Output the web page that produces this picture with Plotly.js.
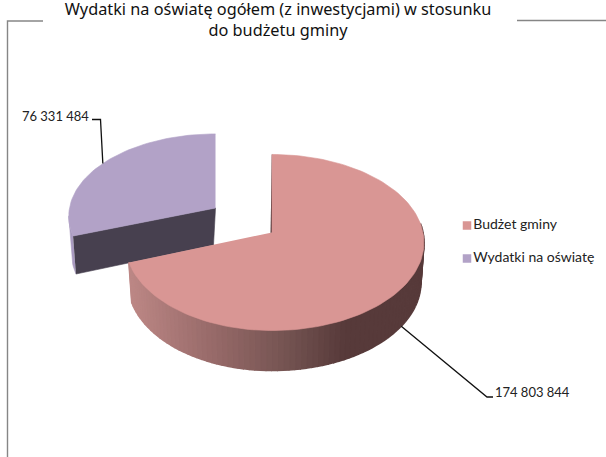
<!DOCTYPE html>
<html><head><meta charset="utf-8">
<script src="https://cdn.plot.ly/plotly-3.0.0.min.js"></script>
<style>html,body{margin:0;padding:0;background:#fff}</style></head>
<body><div id="chart" style="width:606px;height:457px"></div>
<script>
const titleLines = ["Wydatki na oświatę ogółem (z inwestycjami) w stosunku", "do budżetu gminy"];
const categories = ["Budżet gminy", "Wydatki na oświatę"];
const values = [174803844, 76331484];
const topColors = ["#D99694", "#B2A2C7"];

const total = values[0] + values[1];
const sweep = values[0] / total * 360;
const rad = d => d * Math.PI / 180;

// projected disc: apex position, radii and perspective factor of each slice
const discs = [
  {x0: 272, y0: 232.5, A: 86.9, BL: 146, BR: 151, k: 0.1136, depth: 40, shrink: 0.98, from: 0, to: sweep},
  {x0: 215.5, y0: 208, A: 81.5, BL: 146, BR: 146, k: 0.1, depth: 38, shrink: 0.98, from: sweep, to: 360}
];
function proj(d, deg, low) {
  const u = Math.sin(rad(deg)), v = Math.cos(rad(deg)), w = 1 + d.k * v;
  const s = low ? d.shrink : 1, B = u < 0 ? d.BL : d.BR;
  return [d.x0 + B * s * u / w, d.y0 - d.A * v / w + (low ? d.depth : 0)];
}
function poly(pts, color, lw) {
  return {type: "scatter", mode: "lines", x: pts.map(p => p[0]), y: pts.map(p => p[1]),
    fill: "toself", fillcolor: color, line: {color: color, width: lw === undefined ? 0.6 : lw},
    hoverinfo: "skip", showlegend: false};
}
function arc(d, a, b, low) {
  const n = Math.ceil(Math.abs(b - a) / 2), out = [];
  for (let i = 0; i <= n; i++) out.push(proj(d, a + (b - a) * i / n, low));
  return out;
}
function shade(x) {
  const stops = [[130, [188, 135, 133]], [215, [150, 105, 104]], [285, [117, 84, 82]], [345, [87, 58, 58]], [430, [87, 58, 58]]];
  for (let i = 1; i < stops.length; i++) {
    if (x <= stops[i][0]) {
      const t = Math.max(0, (x - stops[i - 1][0]) / (stops[i][0] - stops[i - 1][0]));
      const c = stops[i - 1][1].map((v, j) => Math.round(v + (stops[i][1][j] - v) * t));
      return "rgb(" + c.join(",") + ")";
    }
  }
  return "rgb(87,58,58)";
}

const traces = [];
const P = discs[0], Q = discs[1];
const apexQ = [Q.x0, Q.y0], apexQlow = [Q.x0 - 2, Q.y0 + Q.depth - 1];

// exploded slice: outer wall, cut face, top
traces.push(poly(arc(Q, Q.from, Q.from + 14, false).concat(arc(Q, Q.from + 14, Q.from, true)), "#A99AC0"));
traces.push(poly([proj(Q, Q.from, false), apexQ, apexQlow, proj(Q, Q.from, true)], "#47404F"));
traces.push(poly([apexQ].concat(arc(Q, Q.from, Q.to, false)), topColors[1]));

// main slice: inner sliver, outer wall strips, top
traces.push(poly([proj(P, 0, false), [P.x0, P.y0], [P.x0 - 1.5, P.y0]], "#57393A"));
const step = 2;
for (let a = 84; a < P.to; a += step) {
  const b = Math.min(a + step, P.to);
  const pts = [proj(P, a, false), proj(P, b, false), proj(P, b, true), proj(P, a, true)];
  traces.push(poly(pts, shade((pts[0][0] + pts[1][0]) / 2), 1.6));
}
traces.push(poly([[P.x0, P.y0]].concat(arc(P, P.from, P.to, false)), topColors[0]));

// leader lines and value labels, anchored at each slice's middle
const fmt = v => String(v).replace(/\B(?=(\d{3})+(?!\d))/g, "\u2005");
const anchorP = proj(P, (P.from + P.to) / 2, true);
const anchorQ = proj(Q, (Q.from + Q.to) / 2, false);
const leader = (pts) => ({type: "scatter", mode: "lines", x: pts.map(p => p[0]), y: pts.map(p => p[1]),
  line: {color: "#111", width: 1.3}, hoverinfo: "skip", showlegend: false});
traces.push(leader([anchorP, [487, 397], [493, 397]]));
traces.push(leader([anchorQ, [100.5, 119.5], [92, 119.5]]));

const labelFont = {family: "Lato, sans-serif", size: 14, color: "#222"};
const valueFont = {family: "Lato, sans-serif", size: 13, color: "#222"};

// legend entries
const legendX = [467, 467], legendY = [225.5, 258.5];
categories.forEach((c, i) => traces.push({type: "scatter", mode: "markers+text", x: [legendX[i]], y: [legendY[i]],
  text: [c], textposition: "middle right", textfont: labelFont, name: c,
  marker: {symbol: "square", size: 8.5, color: topColors[i]}, hoverinfo: "skip", showlegend: false}));

// chart frame
const frame = [[43, 21], [7.5, 21], [7.5, 457]];
const frameR = [[517, 20.5], [606, 20.5]];
[frame, frameR].forEach(f => traces.push({type: "scatter", mode: "lines", x: f.map(p => p[0]), y: f.map(p => p[1]),
  line: {color: "#868686", width: 1.4}, hoverinfo: "skip", showlegend: false}));

const layout = {
  width: 606, height: 457, margin: {l: 0, r: 0, t: 0, b: 0, autoexpand: false},
  paper_bgcolor: "#fff", plot_bgcolor: "#fff", showlegend: false,
  xaxis: {range: [0, 606], visible: false, fixedrange: true},
  yaxis: {range: [457, 0], visible: false, fixedrange: true},
  title: {text: titleLines.join("<br>"), x: 278 / 606, xanchor: "center", xref: "paper",
    y: 1 - 15 / 457, yref: "container", yanchor: "top", pad: {t: 0},
    font: {family: "'Noto Sans', sans-serif", size: 16.3, color: "#111"}},
  annotations: [
    {text: fmt(values[1]), x: 91, y: 116, xanchor: "right", showarrow: false, font: valueFont},
    {text: fmt(values[0]), x: 493, y: 392, xanchor: "left", showarrow: false, font: valueFont}
  ]
};
Plotly.newPlot("chart", traces, layout, {displayModeBar: false, responsive: false});
</script></body></html>
